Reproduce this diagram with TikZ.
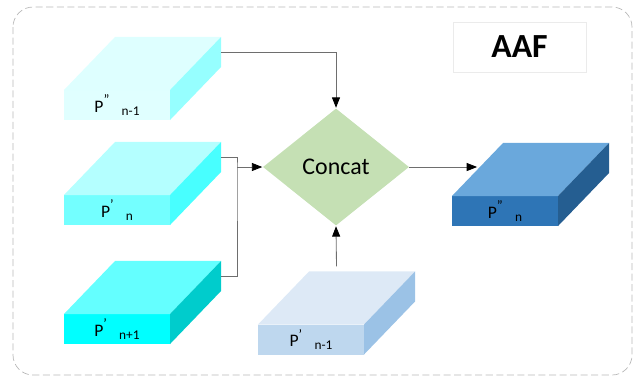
\documentclass[tikz,border=0pt]{standalone}
\usepackage{fontspec}
\setmainfont{Carlito}
\usepackage{tikz}
\usetikzlibrary{shapes.geometric,arrows.meta,positioning,calc}
\usepackage{xcolor}
\definecolor{cIceF}{RGB}{224,255,255}
\definecolor{cIceT}{RGB}{222,255,255}
\definecolor{cIceS}{RGB}{150,255,255}
\definecolor{cAquaF}{RGB}{115,255,255}
\definecolor{cAquaT}{RGB}{180,255,255}
\definecolor{cAquaS}{RGB}{72,255,255}
\definecolor{cCyanF}{RGB}{0,255,255}
\definecolor{cCyanT}{RGB}{100,255,255}
\definecolor{cCyanS}{RGB}{0,204,204}
\definecolor{cSkyF}{RGB}{190,215,238}
\definecolor{cSkyT}{RGB}{221,233,246}
\definecolor{cSkyS}{RGB}{155,194,230}
\definecolor{cNavyF}{RGB}{46,117,182}
\definecolor{cNavyT}{RGB}{106,168,220}
\definecolor{cNavyS}{RGB}{37,94,145}
\definecolor{cLeaf}{RGB}{197,224,180}
\definecolor{cWire}{RGB}{110,110,110}
\tikzset{
  slabfront/.style={rectangle,inner sep=0pt,outer sep=0pt,
                    minimum width=2.65cm,minimum height=0.75cm,
                    font=\fontsize{12.5}{14}\selectfont},
  catnode/.style={diamond,inner sep=0pt,fill=cLeaf,
                  minimum width=3.65cm,minimum height=2.925cm,
                  font=\fontsize{17}{20}\selectfont},
  titlenode/.style={rectangle,draw=black!8,minimum width=3.325cm,minimum height=1.25cm,
                    font=\fontsize{24}{28}\selectfont\bfseries},
  wire/.style={draw=cWire,line width=0.6pt},
  arr/.style={wire,-{Triangle[length=2.6mm,width=2mm,color=black]},shorten >=0.3pt}
}
% slab: name, position, front, top, side, label
\newcommand{\slab}[6]{%
  \node[slabfront,fill=#3] (#1) at (#2) {#6};
  \fill[#4] (#1.north west) -- ++(1.275cm,1.325cm) -- ++(2.65cm,0)
    -- (#1.north east) -- cycle;
  \fill[#5] (#1.north east) -- ++(1.275cm,1.325cm) -- ++(0,-0.75cm)
    -- (#1.south east) -- cycle;
  \coordinate (#1-r) at ($(#1.east)+(1.275cm,1.325cm)$);
}
\newcommand{\plab}[2]{P\raisebox{0.9ex}{\fontsize{10}{12}\selectfont #1}\hspace{0.7em}\raisebox{-0.4ex}{\fontsize{9.5}{11}\selectfont #2}}

\begin{document}
\begin{tikzpicture}[x=0.025cm,y=-0.025cm]
  \useasboundingbox (0,0) rectangle (635,377);
  \draw[gray!55,dash pattern=on 5pt off 2.5pt,rounded corners=0.5cm,line width=0.5pt]
    (13,7) rectangle (632,375);

  \node[titlenode] (aaf) at (519.5,47) {AAF};

  \slab{b1}{117,105}{cIceF}{cIceT}{cIceS}{\plab{"}{n-1}}
  \slab{b2}{117,210}{cAquaF}{cAquaT}{cAquaS}{\plab{'}{n}}
  \slab{b3}{117,329}{cCyanF}{cCyanT}{cCyanS}{\plab{'}{n+1}}
  \slab{b4}{311,339.5}{cSkyF}{cSkyT}{cSkyS}{\plab{'}{n-1}}
  \slab{b5}{505,211}{cNavyF}{cNavyT}{cNavyS}{\plab{"}{n}}

  \node[catnode] (cc) at (336,167) {Concat};

  \coordinate (jn) at (237,167);
  \coordinate (b4-top) at ($(b4.north)+(0.6375cm,1.45cm)$);
  \coordinate (b5-in) at ($(b5.north west)+(0.6375cm,0.6625cm)$);

  \draw[arr] (b1-r) -| (cc.north);
  \draw[wire] (b2-r) -| (jn) |- (b3-r);
  \draw[arr] (jn) -- (cc.west);
  \draw[arr] (b4-top) -- (cc.south);
  \draw[arr] (cc.east) -- (cc.east -| b5-in);
\end{tikzpicture}
\end{document}
